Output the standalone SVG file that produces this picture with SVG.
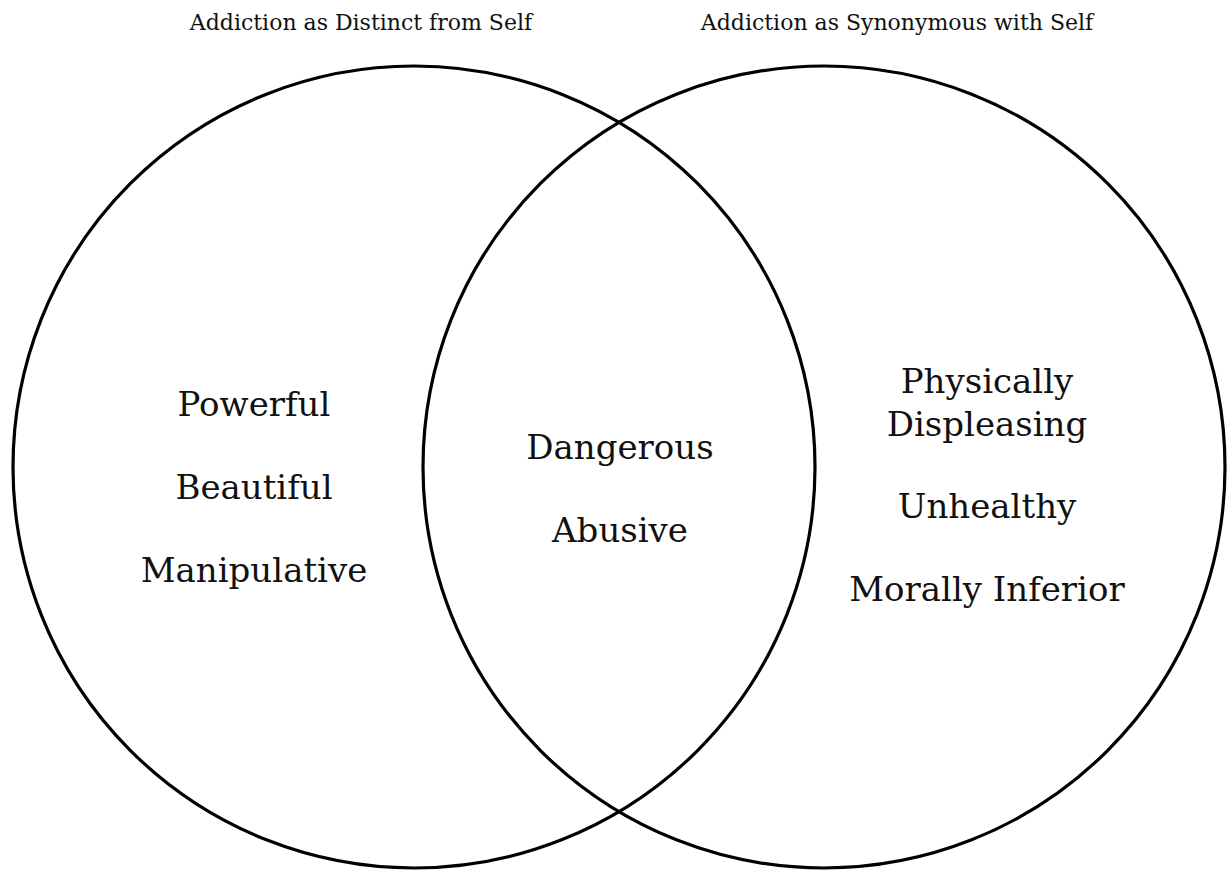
<svg xmlns="http://www.w3.org/2000/svg" width="1231" height="871" viewBox="0 0 1231 871">
  <style>
    .set { fill: none; stroke: #000; stroke-width: 3.2; }
    .title { font-family: "DejaVu Serif", "Liberation Serif", serif; font-size: 22px; fill: #111; text-anchor: middle; }
    .item { font-family: "DejaVu Serif", "Liberation Serif", serif; font-size: 34px; fill: #111; text-anchor: middle; }
  </style>
  <rect width="1231" height="871" fill="#fff"/>
  <g id="set-distinct">
    <circle class="set" cx="414" cy="467" r="401"/>
    <text class="title" x="361" y="30">Addiction as Distinct from Self</text>
    <text class="item" x="254" y="416">Powerful</text>
    <text class="item" x="254" y="499">Beautiful</text>
    <text class="item" x="254" y="582">Manipulative</text>
  </g>
  <g id="set-synonymous">
    <circle class="set" cx="824" cy="467" r="401"/>
    <text class="title" x="897" y="30">Addiction as Synonymous with Self</text>
    <text class="item" x="987" y="393">Physically</text>
    <text class="item" x="987" y="436">Displeasing</text>
    <text class="item" x="987" y="518">Unhealthy</text>
    <text class="item" x="987" y="601">Morally Inferior</text>
  </g>
  <g id="overlap">
    <text class="item" x="620" y="459">Dangerous</text>
    <text class="item" x="620" y="542">Abusive</text>
  </g>
  <g id="connectors"/>
</svg>
